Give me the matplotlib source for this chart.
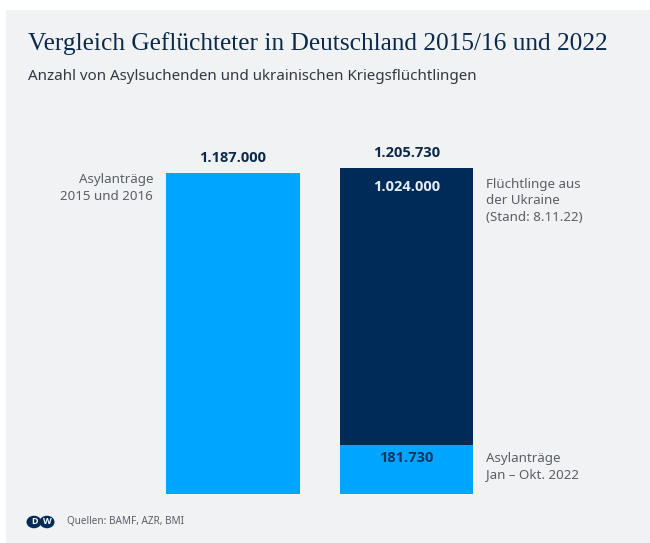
import matplotlib
matplotlib.use("Agg")
import matplotlib.pyplot as plt
from matplotlib.patches import Circle

# ---- data ----
categories = ["2015/16", "2022"]
asyl_values = [1187000, 181730]          # Asylanträge (bottom segment)
ukraine_values = [0, 1024000]            # Flüchtlinge aus der Ukraine (stacked)
total_labels = ["1.187.000", "1.205.730"]
segment_label_ukraine = "1.024.000"
segment_label_asyl_2022 = "181.730"

title = "Vergleich Geflüchteter in Deutschland 2015/16 und 2022"
subtitle = "Anzahl von Asylsuchenden und ukrainischen Kriegsflüchtlingen"
source = "Quellen: BAMF, AZR, BMI"

LIGHT = "#00a5ff"
DARK = "#002a57"
NAVY_TXT = "#0b2a4a"
GREY_TXT = "#5a5f66"
BG = "#f0f2f4"

W, H = 650, 543
fig = plt.figure(figsize=(W / 100, H / 100), dpi=100, facecolor="white")
bg = fig.add_axes([6 / W, 0, 1 - 6 / W, (H - 10) / H], zorder=0)
bg.set_facecolor(BG)
bg.set_xticks([]); bg.set_yticks([])
for s in bg.spines.values():
    s.set_visible(False)

ax = fig.add_axes([0, (H - 494) / H, 1, (494 - 120) / H], zorder=2)
ax.set_facecolor("none")
ax.axis("off")
x = [0, 1]
width = 0.77
ax.bar(x, asyl_values, width=width, color=LIGHT, edgecolor="none")
ax.bar(x, ukraine_values, width=width, bottom=asyl_values, color=DARK, edgecolor="none")
ax.set_ylim(0, 1383000)
ax.set_xlim(-233 / 173.5, (650 - 233) / 173.5)

sans = ["Noto Sans", "DejaVu Sans"]
bold = ["Open Sans", "DejaVu Sans"]
totals = [a + u for a, u in zip(asyl_values, ukraine_values)]
for xi, tot, lab in zip(x, totals, total_labels):
    ax.annotate(lab, (xi, tot), xytext=(0, 15), textcoords="offset pixels",
                ha="center", va="center", fontsize=10.5, fontweight="bold",
                color=NAVY_TXT, family=bold)

ax.annotate(segment_label_ukraine, (x[1], totals[1]), xytext=(0, -19), textcoords="offset pixels",
            ha="center", va="center", fontsize=10.5, fontweight="bold", color="#e6edf5", family=bold)
ax.annotate(segment_label_asyl_2022, (x[1], asyl_values[1]), xytext=(0, -13), textcoords="offset pixels",
            ha="center", va="center", fontsize=10.5, fontweight="bold", color="#0d3560", family=bold)

# side annotations
ax.annotate("Asylanträge\n2015 und 2016", (x[0] - width / 2, totals[0]), xytext=(-13, 0),
            textcoords="offset pixels", ha="right", va="top", fontsize=9.6, color=GREY_TXT,
            family=sans, linespacing=1.35, multialignment="right")
ax.annotate("Flüchtlinge aus\nder Ukraine\n(Stand: 8.11.22)", (x[1] + width / 2, totals[1]),
            xytext=(13, -10), textcoords="offset pixels", ha="left", va="top", fontsize=9.6,
            color=GREY_TXT, family=sans, linespacing=1.35)
ax.annotate("Asylanträge\nJan – Okt. 2022", (x[1] + width / 2, asyl_values[1]),
            xytext=(13, -7), textcoords="offset pixels", ha="left", va="top", fontsize=9.6,
            color=GREY_TXT, family=sans, linespacing=1.35)

# titles
fig.text(28 / W, 1 - 44 / H, title, ha="left", va="center", fontsize=18.3,
         family=["Liberation Serif", "DejaVu Serif"], color=NAVY_TXT, zorder=3)
fig.text(28 / W, 1 - 77 / H, subtitle, ha="left", va="center", fontsize=10.9,
         family=sans, color="#333840", zorder=3)

# footer with DW logo
for cx in (34, 47):
    fig.patches.append(Circle((cx / W, 1 - 522 / H), 7.5 / W, transform=fig.transFigure,
                              facecolor=DARK, edgecolor="none", zorder=3))
for cx, letter in [(34, "D"), (47, "W")]:
    fig.text(cx / W, 1 - 522 / H, letter, ha="center", va="center", fontsize=6.5,
             fontweight="bold", color="white", family=bold, zorder=4)
fig.text(67 / W, 1 - 522 / H, source, ha="left", va="center", fontsize=7.2,
         family=sans, color=GREY_TXT, zorder=3)

fig.savefig("out.png", dpi=100, facecolor="white")
